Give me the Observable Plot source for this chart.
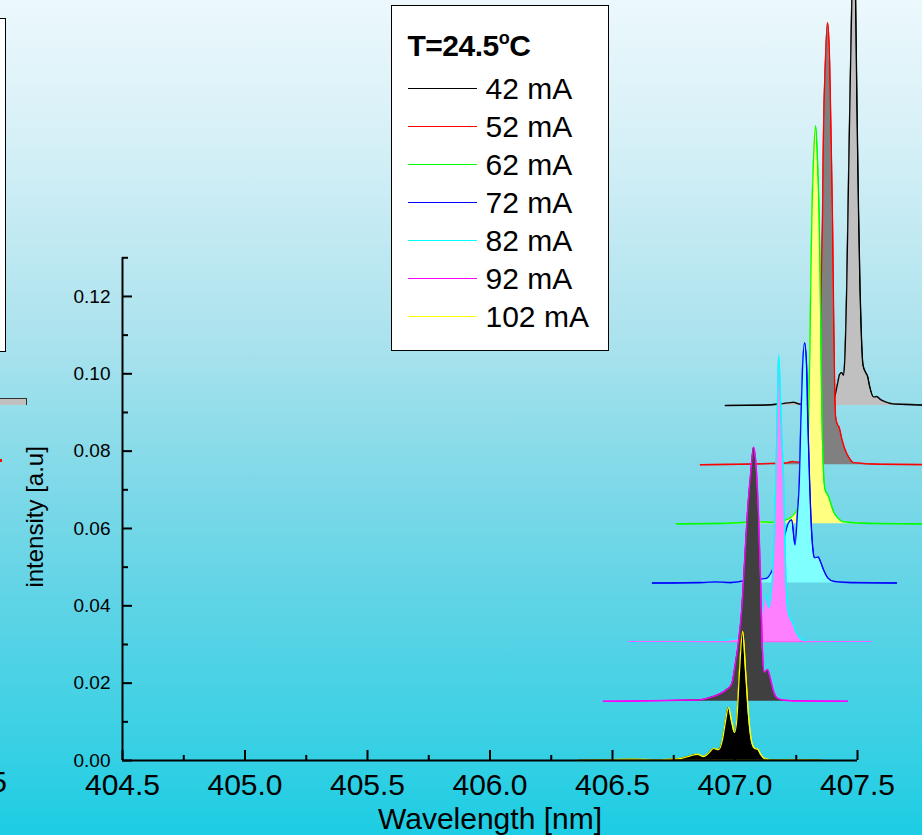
<!DOCTYPE html>
<html>
<head>
<meta charset="utf-8">
<script src="https://cdn.jsdelivr.net/npm/d3@7"></script>
<script src="https://cdn.jsdelivr.net/npm/@observablehq/plot@0.6"></script>
<style>
html, body { margin: 0; padding: 0; }
body {
  width: 922px; height: 835px; overflow: hidden; position: relative;
  font-family: "Liberation Sans", Arial, sans-serif;
  background: linear-gradient(to bottom, #ecf8fc 0%, #d6f0f7 16.8%, #ade3ee 39.5%, #80d9e8 57.5%, #5fd4e6 71.9%, #3ad0e4 88.6%, #1ccde3 100%);
}
#chart { position: absolute; left: 0; top: 0; }
#legend { position: absolute; left: 391px; top: 5px; width: 218px; height: 346px; box-sizing: border-box; background: #fff; border: 1.5px solid #000; }
#legend .ltitle { position: absolute; left: 15.5px; top: 25px; font-size: 30px; line-height: 30px; font-weight: bold; white-space: nowrap; letter-spacing: -0.5px; }
#legend .deg { font-size: 18px; position: relative; top: -12px; }
#legend .lline { position: absolute; left: 15.5px; width: 69px; height: 0; }
#legend .ltext { position: absolute; left: 93.5px; font-size: 30px; line-height: 30px; white-space: nowrap; }
.frag-box { position: absolute; left: -200px; top: 18px; width: 206px; height: 334px; box-sizing: border-box; background: #fff; border: 1.5px solid #000; }
.frag-bar { position: absolute; left: 0; top: 398px; width: 26px; height: 6px; background: #c0c0c0; border-top: 1.5px solid #333; border-right: 1.5px solid #333; }
.frag-dot { position: absolute; left: 0; top: 459px; width: 2px; height: 3px; background: #ff0000; }
.frag-five { position: absolute; left: -30px; top: 766.6px; width: 37px; text-align: right; font-size: 30px; line-height: 30px; }
</style>
</head>
<body>
<div class="frag-box"></div>
<div class="frag-bar"></div>
<div class="frag-dot"></div>
<div class="frag-five">5</div>
<div id="chart"></div>
<div id="legend"></div>
<script>
// ---- Data ----
const currents = ["42 mA", "52 mA", "62 mA", "72 mA", "82 mA", "92 mA", "102 mA"];
const legendTitle = ["T=24.5", "o", "C"];
const xLabel = "Wavelength [nm]";
const yLabel = "intensity [a.u]";
const xMajorTicks = [404.5, 405.0, 405.5, 406.0, 406.5, 407.0, 407.5];
const xMinorTicks = [404.75, 405.25, 405.75, 406.25, 406.75, 407.25];
const yMajorTicks = [0.00, 0.02, 0.04, 0.06, 0.08, 0.10, 0.12];
const yMinorTicks = [0.01, 0.03, 0.05, 0.07, 0.09, 0.11, 0.13];

// Spectra: wavelength (nm) and intensity (a.u.) before waterfall offset
const wl42  = [406.361,406.504,406.586,406.639,406.667,406.729,406.782,406.806,406.818,406.827,406.835,406.843,406.848,406.856,406.864,406.871,406.877,406.884,406.892,406.898,406.904,406.910,406.915,406.922,406.933,406.941,406.949,406.965,406.978,406.994,407.014,407.035,407.076,407.361];
const int42 = [0,0.0001,0.0004,0.0008,0.0003,0.0004,0.0008,0.0021,0.0054,0.0080,0.0085,0.0078,0.0115,0.0300,0.0600,0.0850,0.1050,0.1350,0.1050,0.0750,0.0500,0.0300,0.0190,0.0105,0.0085,0.0075,0.0050,0.0022,0.0023,0.0015,0.0009,0.0005,0.0003,0];

const wl52  = [406.359,406.522,406.645,406.706,406.735,406.759,406.788,406.816,406.837,406.845,406.849,406.853,406.857,406.861,406.869,406.878,406.886,406.892,406.898,406.902,406.906,406.910,406.918,406.924,406.935,406.947,406.963,406.984,407.094,407.359];
const int52 = [0,0.0001,0.0003,0.0004,0.0008,0.0006,0.0008,0.0018,0.0040,0.0150,0.0350,0.0500,0.0620,0.0840,0.1040,0.1143,0.1040,0.0840,0.0620,0.0400,0.0220,0.0125,0.0103,0.0098,0.0068,0.0042,0.0020,0.0005,0.0001,0];

const wl62  = [406.361,406.541,406.696,406.753,406.794,406.827,406.847,406.867,406.888,406.900,406.906,406.910,406.914,406.920,406.929,406.937,406.943,406.947,406.951,406.955,406.959,406.963,406.969,406.978,406.990,407.002,407.018,407.043,407.153,407.361];
const int62 = [0,0.0001,0.0005,0.0004,0.0008,0.0016,0.0030,0.0060,0.0120,0.0250,0.0450,0.0650,0.0800,0.0930,0.1029,0.0930,0.0800,0.0650,0.0450,0.0270,0.0170,0.0110,0.0085,0.0075,0.0054,0.0031,0.0016,0.0005,0.0001,0];

const wl72  = [406.363,406.559,406.620,406.682,406.722,406.763,406.804,406.829,406.841,406.853,406.869,406.886,406.902,406.918,406.931,406.945,406.955,406.963,406.969,406.976,406.984,406.992,406.997,407.004,407.012,407.018,407.024,407.039,407.049,407.061,407.078,407.102,407.171,407.359];
const int72 = [0,0.0001,0.0003,0.0001,0.0004,0.0008,0.0010,0.0012,0.0020,0.0034,0.0055,0.0085,0.0120,0.0155,0.0163,0.0098,0.0180,0.0267,0.0420,0.0559,0.0621,0.0559,0.0420,0.0267,0.0137,0.0085,0.0065,0.0067,0.0054,0.0034,0.0013,0.0004,0.0001,0];

const wl82  = [406.365,406.578,406.700,406.753,406.810,406.863,406.896,406.908,406.916,406.927,406.937,406.945,406.953,406.961,406.967,406.973,406.978,406.984,406.990,406.998,407.004,407.010,407.018,407.027,407.035,407.047,407.067,407.092,407.190,407.357];
const int82 = [0,0.0001,0.0003,0.0004,0.0010,0.0021,0.0039,0.0070,0.0100,0.0122,0.0090,0.0110,0.0165,0.0280,0.0420,0.0600,0.0742,0.0660,0.0540,0.0420,0.0250,0.0130,0.0075,0.0060,0.0050,0.0030,0.0009,0.0003,0.0001,0];

const wl92  = [406.363,406.514,406.678,406.759,406.788,406.833,406.861,406.886,406.902,406.914,406.927,406.939,406.951,406.963,406.976,406.988,406.996,407.004,407.012,407.020,407.033,407.045,407.057,407.073,407.098,407.167,407.359];
const int92 = [0,0.0001,0.0003,0.0004,0.0008,0.0018,0.0028,0.0044,0.0100,0.0152,0.0233,0.0360,0.0490,0.0582,0.0657,0.0590,0.0480,0.0320,0.0130,0.0075,0.0082,0.0057,0.0026,0.0008,0.0003,0.0001,0];

const wl102  = [406.361,406.451,406.573,406.696,406.778,406.818,406.847,406.871,406.896,406.912,406.933,406.949,406.961,406.973,406.986,406.998,407.008,407.018,407.031,407.043,407.055,407.067,407.080,407.092,407.104,407.120,407.153,407.267,407.357];
const int102 = [0,0.0001,0.0003,0.0002,0.0005,0.0012,0.0016,0.0010,0.0021,0.0031,0.0028,0.0054,0.0100,0.0137,0.0100,0.0072,0.0110,0.0225,0.0334,0.0230,0.0115,0.0050,0.0031,0.0029,0.0016,0.0005,0.0001,0.0002,0];

const wavelengths = [wl42, wl52, wl62, wl72, wl82, wl92, wl102];
const intensities = [int42, int52, int62, int72, int82, int92, int102];

// ---- Styling ----
const lineColors = ["#000000", "#ff0000", "#00ff00", "#0000ff", "#00ffff", "#ff00ff", "#ffff00"];
const fillColors = ["#c0c0c0", "#808080", "#ffff80", "#80ffff", "#ff80ff", "#404040", "#000000"];
const baseColors = [null, null, null, null, "#ff60ff", null, "#707000"];
const xStep = 0.1;      // waterfall x offset per trace (nm)
const yStep = 0.0153;   // waterfall y offset per trace (a.u.)
const yAxisTop = 0.13;
const yViewTop = 760 / 3867;

// Build waterfall rows (trace index 0 = front/bottom = 102 mA)
const series = currents.map((c, j) => {
  const k = currents.length - 1 - j;
  return wavelengths[j].map((w, n) => ({
    current: c,
    x: w + xStep * k,
    base: yStep * k,
    y: intensities[j][n] + yStep * k
  }));
});

const marks = [];
for (let j = 0; j < currents.length; j++) {
  marks.push(Plot.line(series[j], {x: "x", y: "y", stroke: lineColors[j], strokeWidth: 1.5, curve: "monotone-x"}));
  marks.push(Plot.area(series[j], {x1: "x", y1: "base", y2: "y", fill: fillColors[j], curve: "monotone-x"}));
  marks.push(Plot.line(series[j], {x: "x", y: "y", stroke: lineColors[j], strokeWidth: 1.2, curve: "monotone-x"}));
  if (baseColors[j]) {
    marks.push(Plot.line(series[j], {x: "x", y: "base", dy: -0.5, stroke: baseColors[j], strokeWidth: 1.2}));
  }
}

// axes
marks.push(Plot.ruleY([0], {x1: xMajorTicks[0], x2: xMajorTicks[xMajorTicks.length - 1], stroke: "#000", strokeWidth: 2}));
marks.push(Plot.ruleX([xMajorTicks[0]], {y1: 0, y2: yAxisTop, stroke: "#000", strokeWidth: 2}));
marks.push(Plot.ruleX(xMajorTicks, {x: d => d, y1: 0, y2: 0, insetTop: -10, stroke: "#000", strokeWidth: 2}));
marks.push(Plot.ruleX(xMinorTicks, {x: d => d, y1: 0, y2: 0, insetTop: -5, stroke: "#000", strokeWidth: 2}));
marks.push(Plot.ruleY(yMajorTicks, {y: d => d, x1: xMajorTicks[0], x2: xMajorTicks[0], insetRight: -10, stroke: "#000", strokeWidth: 2}));
marks.push(Plot.ruleY(yMinorTicks, {y: d => d, x1: xMajorTicks[0], x2: xMajorTicks[0], insetRight: -6, stroke: "#000", strokeWidth: 2}));
marks.push(Plot.axisX({ticks: xMajorTicks, tickSize: 0, tickPadding: 13, tickFormat: d3.format(".1f"), fontSize: 30, label: null}));
marks.push(Plot.axisY({ticks: yMajorTicks, tickSize: 0, tickPadding: 12, tickFormat: d3.format(".2f"), fontSize: 19, label: null}));
marks.push(Plot.text([xLabel], {text: d => d, frameAnchor: "bottom", dy: 68, lineAnchor: "bottom", fontSize: 30}));
marks.push(Plot.text([yLabel], {text: d => d, frameAnchor: "left", textAnchor: "middle", y: 0.063, dx: -87, rotate: -90, fontSize: 24}));

const chart = Plot.plot({
  width: 922,
  height: 835,
  marginLeft: 122,
  marginRight: 65,
  marginTop: 0,
  marginBottom: 75,
  x: {domain: [xMajorTicks[0], xMajorTicks[xMajorTicks.length - 1]], axis: null},
  y: {domain: [0, yViewTop], axis: null},
  style: {background: "transparent", fontFamily: "'Liberation Sans', Arial, sans-serif", color: "#000"},
  marks
});
document.getElementById("chart").appendChild(chart);

// ---- Legend ----
const legend = document.getElementById("legend");
const t = document.createElement("div");
t.className = "ltitle";
t.innerHTML = legendTitle[0] + "<span class='deg'>" + legendTitle[1] + "</span>" + legendTitle[2];
legend.appendChild(t);
currents.forEach((c, j) => {
  const cy = 89 + 38 * j - 6.5;
  const ln = document.createElement("div");
  ln.className = "lline";
  ln.style.top = (cy - 0.75) + "px";
  ln.style.borderTop = "1.5px solid " + lineColors[j];
  legend.appendChild(ln);
  const tx = document.createElement("div");
  tx.className = "ltext";
  tx.style.top = (cy - 14.65) + "px";
  tx.textContent = c;
  legend.appendChild(tx);
});
</script>
</body>
</html>
